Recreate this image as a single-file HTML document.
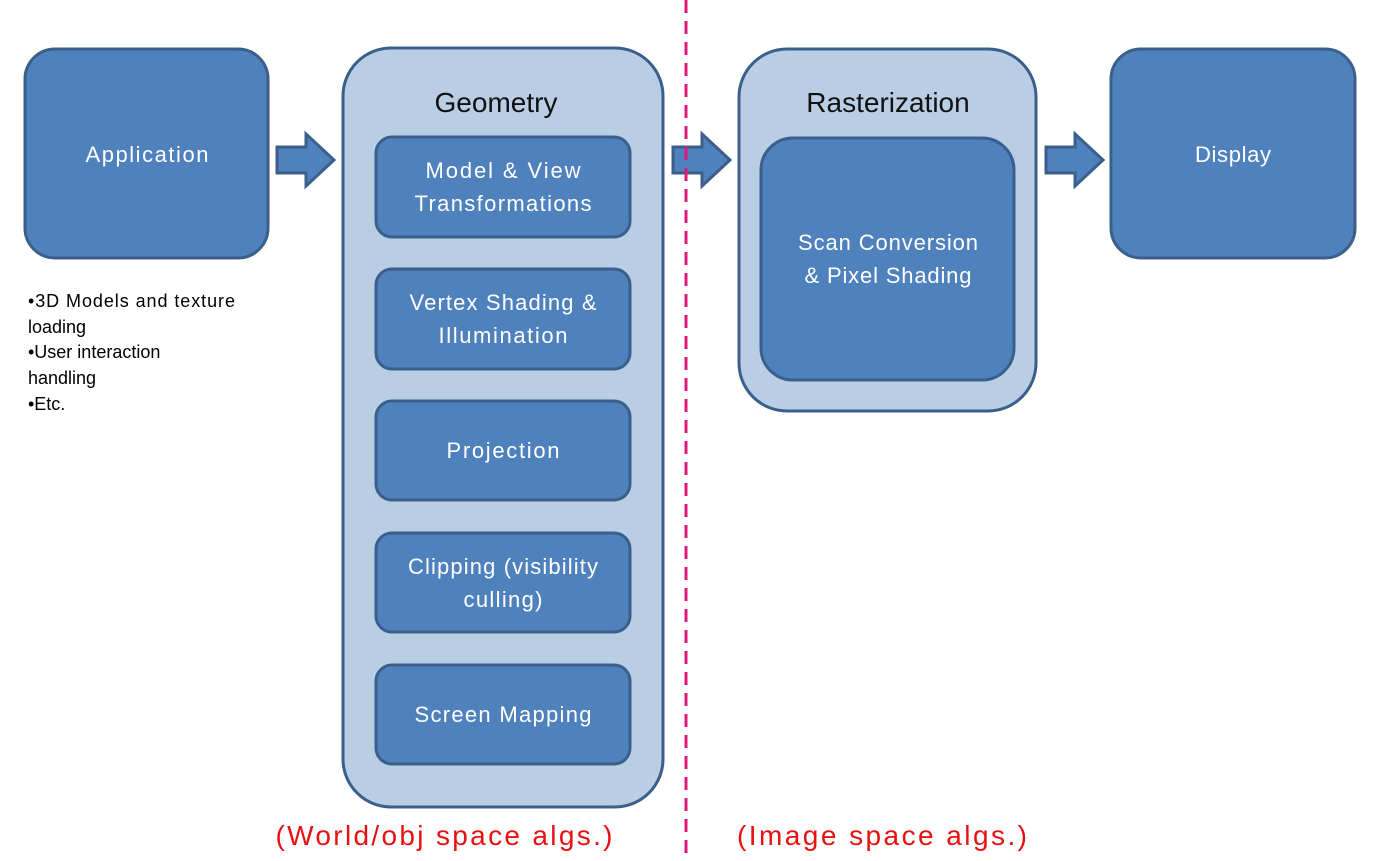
<!DOCTYPE html>
<html><head><meta charset="utf-8"><style>body{margin:0;background:#fff}svg{display:block}</style></head><body>
<svg width="1383" height="861" viewBox="0 0 1383 861" xmlns="http://www.w3.org/2000/svg" font-family="'Liberation Sans', sans-serif">
<g stroke="#3a5f8b" stroke-width="3">
<rect x="25" y="49" width="243" height="209" rx="30" fill="#4f81bd"/>
<rect x="343" y="48" width="320" height="759" rx="48" fill="#b9cde5"/>
<rect x="376" y="137" width="254" height="100" rx="16" fill="#4f81bd"/>
<rect x="376" y="269" width="254" height="100" rx="16" fill="#4f81bd"/>
<rect x="376" y="401" width="254" height="99" rx="16" fill="#4f81bd"/>
<rect x="376" y="533" width="254" height="99" rx="16" fill="#4f81bd"/>
<rect x="376" y="665" width="254" height="99" rx="16" fill="#4f81bd"/>
<rect x="739" y="49" width="297" height="362" rx="48" fill="#b9cde5"/>
<rect x="761" y="138" width="253" height="242" rx="32" fill="#4f81bd"/>
<rect x="1111" y="49" width="244" height="209" rx="30" fill="#4f81bd"/>
<polygon points="277,147 306,147 306,134 334,160 306,186 306,173 277,173" fill="#4f81bd"/>
<polygon points="673,147 702,147 702,134 730,160 702,186 702,173 673,173" fill="#4f81bd"/>
<polygon points="1046,147 1075,147 1075,134 1103,160 1075,186 1075,173 1046,173" fill="#4f81bd"/>
</g>
<line x1="686" y1="0" x2="686" y2="861" stroke="#e0187c" stroke-width="3" stroke-dasharray="13,8"/>
<g fill="#fff" font-size="22" text-anchor="middle">
<text x="147" y="162" textLength="123">Application</text>
<text x="1233" y="162" textLength="76">Display</text>
<text x="503" y="178" textLength="155">Model &amp; View</text>
<text x="503" y="211" textLength="177">Transformations</text>
<text x="503" y="310" textLength="187">Vertex Shading &amp;</text>
<text x="503" y="343" textLength="129">Illumination</text>
<text x="503" y="458" textLength="113">Projection</text>
<text x="503" y="574" textLength="190">Clipping (visibility</text>
<text x="503" y="607" textLength="79">culling)</text>
<text x="503" y="722" textLength="177">Screen Mapping</text>
<text x="888" y="250" textLength="180">Scan Conversion</text>
<text x="888" y="283" textLength="167">&amp; Pixel Shading</text>
</g>
<g fill="#111" font-size="28" text-anchor="middle">
<text x="496" y="112">Geometry</text>
<text x="888" y="112">Rasterization</text>
</g>
<g fill="#000" font-size="18">
<text x="28" y="307" textLength="207">•3D Models and texture</text>
<text x="28" y="333">loading</text>
<text x="28" y="358">•User interaction</text>
<text x="28" y="384">handling</text>
<text x="28" y="410">•Etc.</text>
</g>
<g fill="#e81010" font-size="28" text-anchor="middle">
<text x="444" y="845" textLength="337">(World/obj space algs.)</text>
<text x="882" y="845" textLength="290">(Image space algs.)</text>
</g>
</svg>
</body></html>
